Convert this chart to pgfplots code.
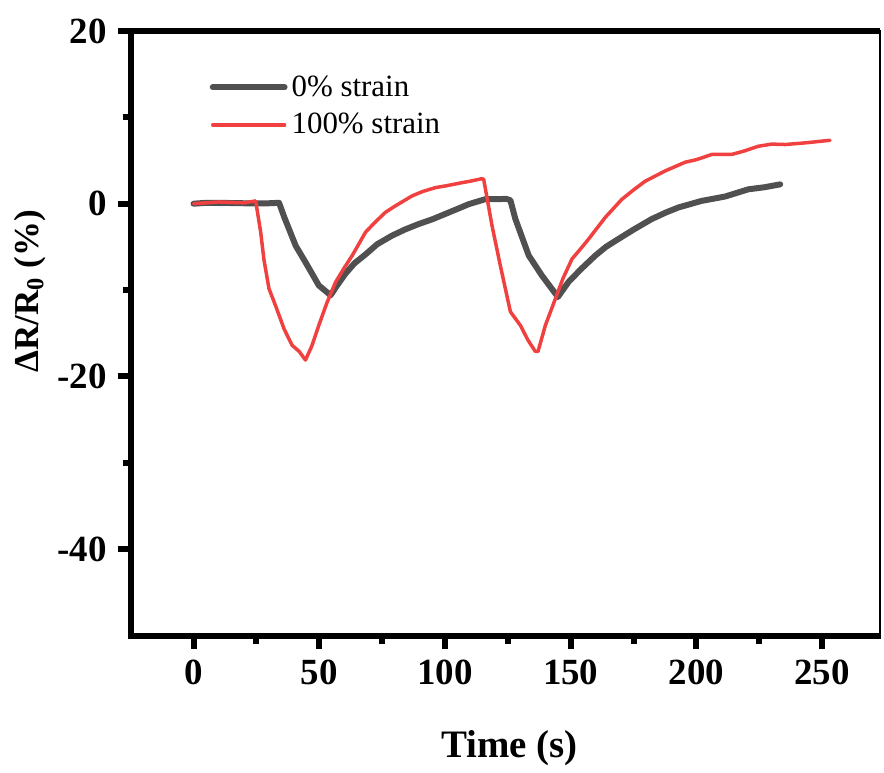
\documentclass[border=0pt]{standalone}
\usepackage{fontspec}
\setmainfont{Liberation Serif}
\usepackage{pgfplots}
\pgfplotsset{compat=1.18}
\definecolor{cblack}{RGB}{80,80,80}
\definecolor{cred}{RGB}{240,64,64}
\begin{document}
\begin{tikzpicture}
\begin{axis}[
  name=ax,
  scale only axis,
  width=375.5pt, height=303pt,
  xmin=-25, xmax=273, ymin=-50, ymax=20,
  xtick={0,50,100,150,200,250},
  ytick={-40,-20,0,20},
  minor x tick num=1, minor y tick num=1,
  tick pos=left,
  tick align=outside,
  major tick length=6.5pt, minor tick length=4pt,
  every tick/.style={line width=3pt, black},
  axis line style={line width=1pt},
  /pgf/number format/assume math mode=true,
  ticklabel style={font=\bfseries\fontsize{18.5}{18.5}\selectfont},
  xticklabel style={yshift=-2pt},
  yticklabel style={xshift=-2pt},
  xlabel={\textbf{Time (s)}},
  ylabel={\textbf{ΔR/R\textsubscript{0} (\%)}},
  xlabel style={font=\bfseries\fontsize{19.5}{19.5}\selectfont, at={(rel axis cs:0.5,0)}, anchor=center, yshift=-56.5pt, xshift=2pt},
  ylabel style={font=\bfseries\fontsize{17.5}{17.5}\selectfont, at={(rel axis cs:0,0.5)}, anchor=center, yshift=50.5pt, xshift=21pt},
  legend style={draw=none, fill=none, at={(rel axis cs:0.097,0.94)}, anchor=north west,
    font=\fontsize{15.5}{15.5}\selectfont, row sep=3pt},
  legend cell align=left,
  legend image code/.code={\draw[#1] (0pt,0pt) -- (36pt,0pt);},
]
\addplot[cblack, line width=3pt, line join=round, line cap=round] coordinates {
(0,0) (5,0.1) (10,0.1) (20,0.05) (30,0.05) (34,0.1) (36,-1.5) (40.6,-4.86) (44.5,-6.77) (49.8,-9.46) (54.5,-10.6) (57,-9.5) (60.4,-8.1) (64,-6.9) (68.4,-5.87) (73,-4.7) (78.9,-3.7) (84,-3.0) (89.5,-2.36) (95,-1.8) (100,-1.2) (105,-0.6) (109.4,-0.06) (116,0.52) (124.5,0.55) (126,0.4) (128,-1.78) (133.3,-6.0) (138.5,-8.3) (144.9,-10.8) (149.1,-9.07) (154,-7.6) (159.8,-6.0) (164,-5.0) (169,-4.08) (175,-3.0) (182.2,-1.78) (188,-1.0) (192.8,-0.44) (202,0.32) (211.4,0.83) (220.7,1.67) (227,1.9) (233.3,2.24)
};
\addlegendentry{0\% strain}
\addplot[cred, line width=1.75pt, line join=round, line cap=round] coordinates {
(0,0) (5,0.1) (10,0.2) (15,0.15) (20,0.1) (24.7,0.32) (26.7,-3.3) (28,-6.5) (30,-9.84) (32.6,-11.8) (36,-14.5) (39.2,-16.4) (42,-17.1) (44.5,-18.1) (47,-16.5) (49.8,-14.1) (53,-11.5) (56.5,-9.07) (60,-7.4) (63.1,-6.0) (68.4,-3.3) (72,-2.2) (76.3,-1.0) (80,-0.3) (86.9,0.9) (91,1.4) (96.2,1.86) (101,2.1) (106.8,2.44) (110,2.6) (114.7,2.9) (115.4,2.8) (118.7,-2.55) (122,-7.16) (126,-12.5) (130,-14.1) (133,-15.8) (135.9,-17.1) (137,-17.1) (139.9,-14.1) (143.9,-11.0) (147,-8.6) (150.5,-6.4) (154,-5.2) (157.1,-4.1) (163.7,-1.6) (170.3,0.5) (175,1.6) (179.6,2.6) (187.6,3.8) (195.5,4.8) (200,5.1) (206.1,5.7) (214,5.7) (219,6.1) (224.6,6.65) (230,6.9) (235.2,6.85) (243.2,7.04) (253.1,7.34)
};
\addlegendentry{100\% strain}
\end{axis}
\draw[line width=3pt] ([xshift=-1.5pt]ax.north west) -- (ax.north east);
\draw[line width=3pt] ([yshift=-1.5pt]ax.south west) -- ([yshift=1.5pt]ax.north west);
\draw[line width=3pt] ([xshift=-1.5pt]ax.south west) -- ([xshift=0.5pt]ax.south east);
\path ([shift={(-65.5pt,-65pt)}]ax.south west) rectangle ([shift={(376.5pt,318.5pt)}]ax.south west);
\end{tikzpicture}
\end{document}
